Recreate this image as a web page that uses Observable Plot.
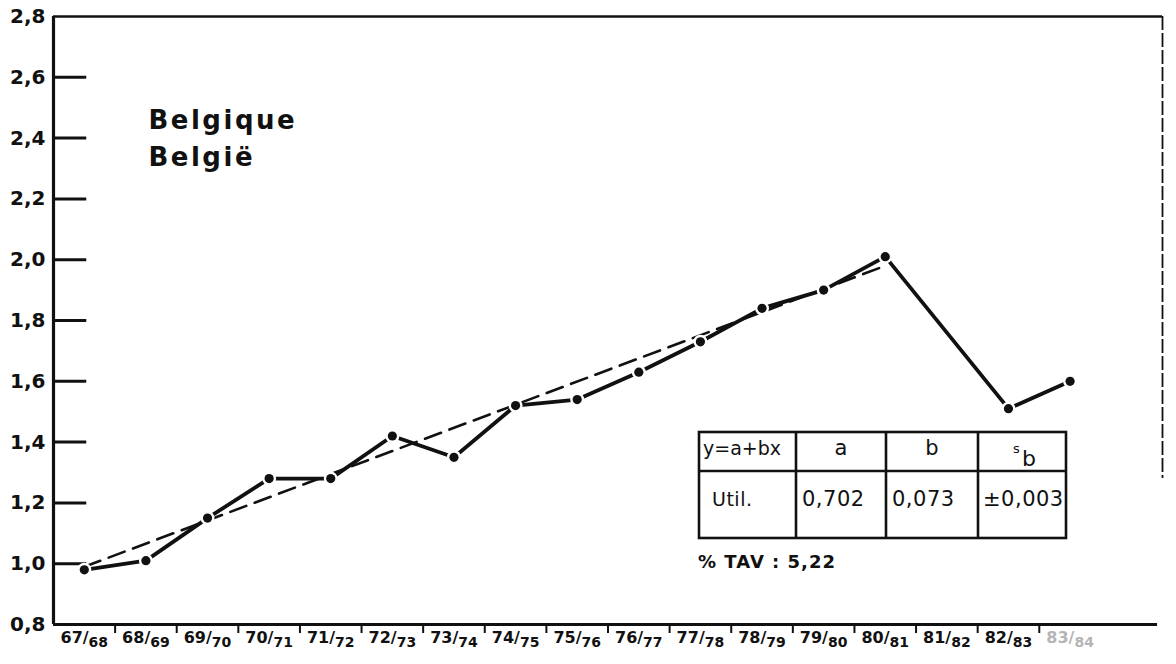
<!DOCTYPE html>
<html>
<head>
<meta charset="utf-8">
<script src="https://cdn.jsdelivr.net/npm/d3@7"></script>
<script src="https://cdn.jsdelivr.net/npm/@observablehq/plot@0.6"></script>
<style>
  html, body { margin: 0; padding: 0; background: #fff; }
  #chart { position: relative; width: 1176px; height: 664px; }
  svg { display: block; }
</style>
</head>
<body>
<div id="chart"></div>
<script>
// ---- data ----
const seasons = ["67/68","68/69","69/70","70/71","71/72","72/73","73/74","74/75","75/76",
                 "76/77","77/78","78/79","79/80","80/81","81/82","82/83","83/84"];
const values  = [0.98, 1.01, 1.15, 1.28, 1.28, 1.42, 1.35, 1.52, 1.54,
                 1.63, 1.73, 1.84, 1.90, 2.01, null, 1.51, 1.60];
const trendSeasons = ["67/68", "80/81"];
const trendValues  = [0.99, 1.98];
const yTicks = [0.8, 1.0, 1.2, 1.4, 1.6, 1.8, 2.0, 2.2, 2.4, 2.6, 2.8];
const titleLines = ["Belgique", "België"];
const tableHeader = ["y=a+bx", "a", "b", "s", "b"];
const tableRow = ["Util.", "0,702", "0,073", "±0,003"];
const tavLabel = "% TAV : 5,22";

// ---- derived tables ----
const pos = s => seasons.indexOf(s) + 0.5;
const pts = seasons.map((s, i) => ({s, x: i + 0.5, v: values[i]})).filter(d => d.v != null);
const trend = trendSeasons.map((s, i) => ({x: pos(s), v: trendValues[i]}));
const labels = seasons.map((s, i) => ({s, x: i + 0.5, faint: i === seasons.length - 1}));
const boundaries = d3.range(1, seasons.length);
const fmt = d => d.toFixed(1).replace(".", ",");
const ink = "#111";

const chart = Plot.plot({
  width: 1176,
  height: 664,
  marginLeft: 53,
  marginRight: 14,
  marginTop: 16,
  marginBottom: 40,
  x: {type: "linear", domain: [0, 18], axis: null},
  y: {domain: [0.8, 2.8], axis: null},
  style: {background: "transparent", fontFamily: "DejaVu Sans", color: ink},
  marks: [
    // y labels and inward ticks
    Plot.axisY(yTicks, {anchor: "left", tickSize: 0, tickPadding: 8, tickFormat: fmt,
      fontSize: 20, fontWeight: "bold", fill: ink, label: null}),
    Plot.ruleY(yTicks.slice(1, -1), {x1: 0, x2: 0.54, stroke: ink, strokeWidth: 3}),
    // frame
    Plot.ruleX([0], {y1: 0.8, y2: 2.8, stroke: ink, strokeWidth: 3.2}),
    Plot.ruleY([0.8], {x1: 0, x2: 17.92, stroke: ink, strokeWidth: 3.2}),
    Plot.ruleY([2.8], {x1: 0, x2: 18, stroke: ink, strokeWidth: 2.6}),
    Plot.ruleX([18], {y1: 2.8, y2: 1.28, stroke: ink, strokeWidth: 1.8, strokeDasharray: "14,3"}),
    // x boundary ticks
    Plot.axisX(boundaries, {anchor: "bottom", tickSize: 9, tickFormat: () => "", stroke: ink, strokeWidth: 2, label: null}),
    // x labels
    Plot.text(labels, {x: "x", frameAnchor: "bottom", dy: 13, text: "s", lineAnchor: "middle",
      fontSize: 16, fontWeight: "bold", fill: d => d.faint ? "#b5b5b5" : ink, className: "xlab"}),
    // title
    Plot.text([titleLines.join("\n")], {frameAnchor: "top-left", dx: 95, dy: 87, lineAnchor: "top",
      lineHeight: 1.4, fontSize: 26, fontWeight: "bold", fill: ink, textAnchor: "start", className: "ttl"}),
    // trend (dashed)
    Plot.line(trend, {x: "x", y: "v", stroke: ink, strokeWidth: 2.6, strokeDasharray: "17,9"}),
    // observed series
    Plot.line(pts, {x: "x", y: "v", stroke: ink, strokeWidth: 3.8}),
    Plot.dot(pts, {x: "x", y: "v", r: 7, fill: "white", stroke: "none"}),
    Plot.dot(pts, {x: "x", y: "v", r: 4.6, fill: ink, stroke: "none"})
  ]
});

document.getElementById("chart").appendChild(chart);
const svg = d3.select(chart);

// letter spacing for title
svg.selectAll(".ttl text").style("letter-spacing", "2.5px");

// split x labels into "67/" + lowered "68"
svg.selectAll(".xlab text").each(function() {
  const t = this.textContent;
  const [a, b] = t.split("/");
  const sel = d3.select(this);
  sel.text(null);
  sel.append("tspan").text(a + "/");
  sel.append("tspan").attr("dy", 4).attr("font-size", 14).text(b);
});

// ---- inset regression table ----
const g = svg.append("g").attr("fill", ink).attr("font-family", "DejaVu Sans")
  .attr("text-anchor", "start");
const colX = [699, 796, 886, 978, 1066];
const rowY = [432, 471, 538];
const lw = 2.6;
g.append("rect").attr("x", colX[0]).attr("y", rowY[0])
  .attr("width", colX[4] - colX[0]).attr("height", rowY[2] - rowY[0])
  .attr("fill", "none").attr("stroke", ink).attr("stroke-width", lw);
colX.slice(1, -1).forEach(x => g.append("line").attr("x1", x).attr("x2", x)
  .attr("y1", rowY[0]).attr("y2", rowY[2]).attr("stroke", ink).attr("stroke-width", lw));
g.append("line").attr("x1", colX[0]).attr("x2", colX[4]).attr("y1", rowY[1]).attr("y2", rowY[1])
  .attr("stroke", ink).attr("stroke-width", lw);

g.append("text").attr("x", 703).attr("y", 455).attr("font-size", 19).text(tableHeader[0]);
g.append("text").attr("x", 841).attr("y", 455).attr("font-size", 21).attr("text-anchor", "middle").text(tableHeader[1]);
g.append("text").attr("x", 932).attr("y", 455).attr("font-size", 21).attr("text-anchor", "middle").text(tableHeader[2]);
g.append("text").attr("x", 1013).attr("y", 453).attr("font-size", 13).text(tableHeader[3]);
g.append("text").attr("x", 1022).attr("y", 466).attr("font-size", 22).text(tableHeader[4]);

const rowXs = [712, 802, 892, 983];
tableRow.forEach((t, i) => g.append("text").attr("x", rowXs[i]).attr("y", 506)
  .attr("font-size", i === 0 ? 19 : 21).style("letter-spacing", "0.5px").text(t));

g.append("text").attr("x", 698).attr("y", 568).attr("font-size", 18)
  .attr("font-weight", "bold").style("letter-spacing", "1px").text(tavLabel);
</script>
</body>
</html>
